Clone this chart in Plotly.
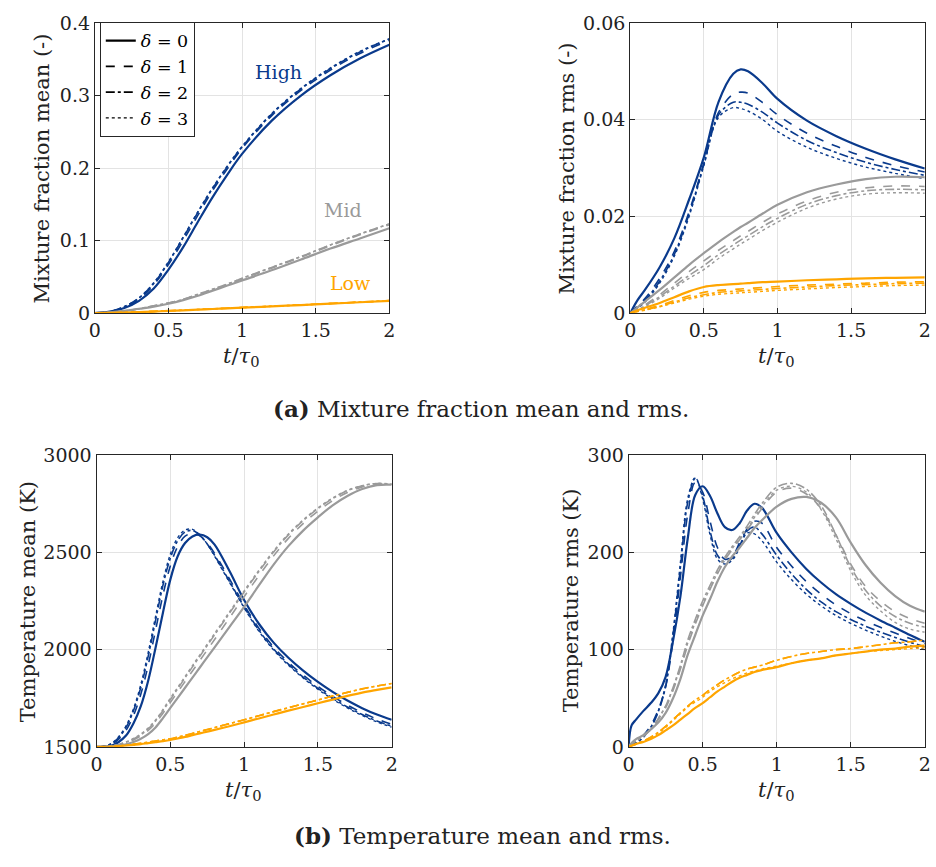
import plotly.graph_objects as go

# ---------------- data ----------------
deltas = ["0", "1", "2", "3"]
groups = ["High", "Mid", "Low"]

# Panel (a-left): mixture fraction mean
t_zmean = [0, 0.1, 0.2, 0.3, 0.4, 0.5, 0.6, 0.7, 0.8, 0.9, 1.0, 1.2, 1.4, 1.6, 1.8, 2.0]
zmean_high = [
    [0, 0.002, 0.007, 0.017, 0.034, 0.060, 0.091, 0.126, 0.160, 0.191, 0.2195, 0.265, 0.300, 0.328, 0.351, 0.370],
    [0, 0.002, 0.008, 0.019, 0.039, 0.067, 0.100, 0.135, 0.169, 0.199, 0.227, 0.272, 0.307, 0.335, 0.358, 0.376],
    [0, 0.002, 0.009, 0.021, 0.041, 0.070, 0.104, 0.139, 0.172, 0.202, 0.229, 0.274, 0.309, 0.337, 0.360, 0.378],
    [0, 0.002, 0.009, 0.021, 0.042, 0.071, 0.105, 0.140, 0.173, 0.203, 0.230, 0.275, 0.310, 0.338, 0.361, 0.378],
]
zmean_mid = [
    [0, 0.001, 0.003, 0.006, 0.009, 0.013, 0.018, 0.024, 0.031, 0.038, 0.045, 0.059, 0.074, 0.089, 0.103, 0.117],
    [0, 0.001, 0.003, 0.006, 0.010, 0.014, 0.019, 0.025, 0.032, 0.039, 0.047, 0.062, 0.077, 0.093, 0.108, 0.122],
    [0, 0.001, 0.003, 0.006, 0.010, 0.014, 0.019, 0.026, 0.033, 0.040, 0.048, 0.063, 0.078, 0.094, 0.109, 0.123],
    [0, 0.001, 0.003, 0.006, 0.010, 0.014, 0.019, 0.026, 0.033, 0.040, 0.048, 0.063, 0.078, 0.094, 0.109, 0.123],
]
zmean_low = [
    [0, 0.0003, 0.0008, 0.0015, 0.0022, 0.003, 0.0039, 0.0048, 0.0057, 0.0066, 0.0075, 0.0093, 0.0111, 0.013, 0.015, 0.017],
    [0, 0.0003, 0.0009, 0.0016, 0.0024, 0.0032, 0.0041, 0.0050, 0.0059, 0.0068, 0.0077, 0.0095, 0.0113, 0.0132, 0.0152, 0.0172],
    [0, 0.0003, 0.0009, 0.0016, 0.0024, 0.0032, 0.0041, 0.0050, 0.0059, 0.0068, 0.0077, 0.0095, 0.0113, 0.0132, 0.0152, 0.0172],
    [0, 0.0003, 0.0009, 0.0016, 0.0024, 0.0032, 0.0041, 0.0050, 0.0059, 0.0068, 0.0077, 0.0095, 0.0113, 0.0132, 0.0152, 0.0172],
]

# Panel (a-right): mixture fraction rms
t_zrms = [0, 0.05, 0.1, 0.2, 0.3, 0.4, 0.5, 0.6, 0.7, 0.75, 0.8, 0.9, 1.0, 1.2, 1.4, 1.6, 1.8, 2.0]
zrms_high = [
    [0, 0.0027, 0.0048, 0.0095, 0.0155, 0.0235, 0.0322, 0.0437, 0.0495, 0.0504, 0.0500, 0.0475, 0.0443, 0.0398, 0.0366, 0.0340, 0.0318, 0.0299],
    [0, 0.0015, 0.0030, 0.0072, 0.0128, 0.0210, 0.0310, 0.0415, 0.0453, 0.0457, 0.0455, 0.0435, 0.0410, 0.0372, 0.0345, 0.0322, 0.0305, 0.0292],
    [0, 0.0012, 0.0026, 0.0066, 0.0122, 0.0205, 0.0308, 0.0410, 0.0436, 0.0436, 0.0432, 0.0415, 0.0393, 0.0357, 0.0332, 0.0312, 0.0297, 0.0285],
    [0, 0.0010, 0.0023, 0.0062, 0.0118, 0.0200, 0.0305, 0.0405, 0.0425, 0.0423, 0.0418, 0.0400, 0.0376, 0.0343, 0.0320, 0.0302, 0.0289, 0.0278],
]
zrms_mid = [
    [0, 0.0012, 0.0024, 0.0048, 0.0074, 0.0100, 0.0124, 0.0147, 0.0168, 0.0178, 0.0187, 0.0206, 0.0224, 0.0250, 0.0266, 0.0277, 0.0282, 0.0281],
    [0, 0.0008, 0.0017, 0.0038, 0.0062, 0.0086, 0.0108, 0.0130, 0.0150, 0.0160, 0.0169, 0.0188, 0.0205, 0.0232, 0.0250, 0.0259, 0.0263, 0.0262],
    [0, 0.0007, 0.0015, 0.0034, 0.0056, 0.0078, 0.0098, 0.0121, 0.0141, 0.0151, 0.0160, 0.0179, 0.0196, 0.0225, 0.0243, 0.0253, 0.0256, 0.0255],
    [0, 0.0006, 0.0013, 0.0031, 0.0052, 0.0072, 0.0090, 0.0113, 0.0133, 0.0143, 0.0152, 0.0171, 0.0188, 0.0217, 0.0236, 0.0246, 0.0249, 0.0248],
]
zrms_low = [
    [0, 0.0006, 0.0011, 0.0021, 0.0033, 0.0045, 0.0054, 0.0058, 0.0060, 0.0061, 0.0062, 0.0064, 0.0065, 0.0068, 0.0070, 0.0072, 0.0073, 0.0074],
    [0, 0.0004, 0.0008, 0.0016, 0.0026, 0.0036, 0.0043, 0.0047, 0.0049, 0.0050, 0.0051, 0.0053, 0.0055, 0.0058, 0.0060, 0.0062, 0.0064, 0.0065],
    [0, 0.0004, 0.0007, 0.0014, 0.0023, 0.0032, 0.0038, 0.0043, 0.0045, 0.0046, 0.0047, 0.0049, 0.0051, 0.0054, 0.0057, 0.0059, 0.0061, 0.0062],
    [0, 0.0003, 0.0006, 0.0013, 0.0021, 0.0029, 0.0035, 0.0039, 0.0041, 0.0042, 0.0043, 0.0045, 0.0047, 0.0050, 0.0053, 0.0055, 0.0057, 0.0058],
]

# Panel (b-left): temperature mean
t_tmean = [0, 0.05, 0.1, 0.15, 0.2, 0.25, 0.3, 0.35, 0.4, 0.45, 0.5, 0.55, 0.6, 0.65, 0.7, 0.75, 0.8,
           0.9, 1.0, 1.1, 1.2, 1.3, 1.4, 1.5, 1.6, 1.7, 1.8, 1.9, 2.0]
tmean_high = [
    [1500, 1500, 1505, 1525, 1558, 1620, 1709, 1840, 2010, 2190, 2360, 2480, 2548, 2582, 2592, 2578, 2540,
     2405, 2255, 2133, 2036, 1958, 1892, 1834, 1783, 1738, 1699, 1666, 1639],
    [1500, 1502, 1512, 1540, 1585, 1660, 1770, 1920, 2100, 2280, 2430, 2530, 2583, 2598, 2585, 2548, 2495,
     2365, 2230, 2110, 2013, 1935, 1869, 1811, 1760, 1715, 1676, 1643, 1616],
    [1500, 1503, 1515, 1548, 1600, 1685, 1805, 1965, 2150, 2330, 2470, 2560, 2605, 2612, 2588, 2543, 2485,
     2352, 2220, 2100, 2003, 1925, 1859, 1801, 1750, 1705, 1666, 1633, 1606],
    [1500, 1503, 1517, 1552, 1608, 1695, 1820, 1985, 2170, 2350, 2490, 2575, 2615, 2618, 2590, 2542, 2480,
     2347, 2215, 2095, 1998, 1920, 1854, 1796, 1745, 1700, 1661, 1628, 1601],
]
tmean_mid = [
    [1500, 1500, 1502, 1506, 1513, 1525, 1542, 1566, 1600, 1648, 1700, 1752, 1804, 1856, 1908, 1960, 2012,
     2116, 2220, 2330, 2437, 2532, 2612, 2680, 2742, 2790, 2826, 2846, 2848],
    [1500, 1501, 1504, 1510, 1520, 1535, 1556, 1584, 1622, 1673, 1728, 1782, 1836, 1890, 1944, 1998, 2052,
     2162, 2272, 2380, 2482, 2572, 2648, 2712, 2766, 2808, 2836, 2851, 2850],
    [1500, 1501, 1505, 1512, 1523, 1540, 1562, 1592, 1633, 1686, 1743, 1799, 1855, 1911, 1966, 2021, 2076,
     2186, 2296, 2402, 2502, 2590, 2663, 2725, 2777, 2817, 2842, 2854, 2850],
    [1500, 1501, 1505, 1513, 1525, 1543, 1566, 1597, 1638, 1692, 1750, 1806, 1862, 1918, 1973, 2028, 2083,
     2193, 2302, 2408, 2508, 2595, 2667, 2729, 2780, 2819, 2843, 2855, 2851],
]
tmean_low = [
    [1500, 1500, 1501, 1503, 1506, 1510, 1514, 1519, 1524, 1529, 1535, 1543, 1551, 1560, 1569, 1578, 1587,
     1606, 1626, 1646, 1666, 1686, 1705, 1724, 1743, 1762, 1779, 1793, 1806],
    [1500, 1500, 1501, 1504, 1508, 1513, 1518, 1524, 1530, 1536, 1541, 1550, 1559, 1569, 1579, 1589, 1599,
     1619, 1639, 1660, 1681, 1701, 1721, 1741, 1761, 1780, 1798, 1813, 1826],
    [1500, 1500, 1501, 1504, 1508, 1513, 1518, 1524, 1530, 1536, 1541, 1550, 1559, 1569, 1579, 1589, 1599,
     1619, 1639, 1660, 1681, 1701, 1721, 1741, 1761, 1780, 1798, 1813, 1826],
    [1500, 1500, 1501, 1504, 1508, 1513, 1518, 1524, 1530, 1536, 1541, 1550, 1559, 1569, 1579, 1589, 1599,
     1619, 1639, 1660, 1681, 1701, 1721, 1741, 1761, 1780, 1798, 1813, 1826],
]

# Panel (b-right): temperature rms
t_trms = [0, 0.02, 0.05, 0.1, 0.15, 0.2, 0.25, 0.3, 0.35, 0.4, 0.45, 0.5, 0.55, 0.6, 0.65, 0.7, 0.75, 0.8, 0.85, 0.9, 1.0, 1.1, 1.2, 1.3, 1.4, 1.5, 1.6, 1.7, 1.8, 1.9, 2.0]
trms_high = [
    [0, 22, 28, 37, 45, 55, 72, 109, 155, 215, 259, 268, 258, 240, 226, 223, 230, 243, 250, 246, 220, 200, 183, 169, 157, 147, 138, 130, 122.5, 115, 108],
    [0, 2, 5, 12, 22, 38, 62, 110, 175, 240, 272, 262, 232, 205, 193, 196, 210, 224, 232, 230, 205, 186, 170, 157, 146, 137, 129.5, 123, 117, 111.5, 106],
    [0, 2, 4, 10, 20, 36, 62, 115, 185, 252, 276, 258, 222, 197, 190, 194, 207, 222, 226, 219, 197, 178, 162, 149, 139, 131, 124, 118, 112.5, 107.5, 103],
    [0, 2, 4, 10, 20, 37, 64, 118, 190, 256, 277, 255, 218, 193, 188, 192, 205, 220, 219, 212, 190, 172, 157, 145, 135, 127, 120, 114, 108.5, 104, 100],
]
trms_mid = [
    [0, 4, 8, 12, 18, 25, 35, 50, 70, 95, 115, 135, 152, 170, 185, 196, 205, 215, 225, 233, 247, 255, 257, 251, 236, 210, 187, 169, 155, 145, 139],
    [0, 3, 6, 11, 18, 28, 40, 58, 80, 105, 126, 145, 162, 178, 192, 203, 213, 223, 234, 245, 262, 266, 260, 245, 218, 188, 165, 150, 139, 132, 127],
    [0, 3, 6, 11, 18, 29, 42, 61, 84, 110, 131, 150, 166, 182, 195, 206, 216, 227, 239, 250, 267, 271, 265, 248, 218, 185, 161, 145, 134, 127, 123],
    [0, 3, 6, 11, 18, 29, 42, 60, 82, 107, 128, 147, 163, 179, 193, 204, 214, 224, 236, 247, 264, 268, 262, 244, 214, 181, 156, 140, 128, 121, 118],
]
trms_low = [
    [0, 1, 3, 5, 8, 12, 17, 22, 28, 34, 40, 45, 51, 57, 62, 67, 71, 74, 77, 79, 82, 86, 89, 91, 94, 96, 98, 100, 101, 103, 104],
    [0, 1, 3, 6, 10, 15, 21, 28, 35, 42, 48, 53, 59, 64, 69, 73, 77, 80, 82, 84, 89, 93, 96, 98, 100, 101, 103, 105, 107, 108, 110],
    [0, 1, 3, 6, 10, 15, 21, 28, 35, 42, 48, 53, 59, 64, 69, 73, 77, 80, 82, 84, 89, 93, 96, 98, 100, 101, 103, 105, 107, 108, 110],
    [0, 1, 3, 6, 9, 14, 20, 27, 34, 41, 46, 51, 57, 62, 66, 70, 73, 76, 78, 80, 83, 86, 89, 91, 94, 96, 98, 99, 100, 101, 102],
]

x_ticks = [0, 0.5, 1, 1.5, 2]
x_tick_text = ["0", "0.5", "1", "1.5", "2"]
ticks_zmean = [0, 0.1, 0.2, 0.3, 0.4]
ticks_zrms = [0, 0.02, 0.04, 0.06]
ticks_tmean = [1500, 2000, 2500, 3000]
ticks_trms = [0, 100, 200, 300]

# ---------------- style ----------------
FONT = "DejaVu Serif"
TXT = "#222222"
colors = {"High": "#0A3A8C", "Mid": "#9A9A9A", "Low": "#FFA500"}
dashes = ["solid", "dash", "dashdot", "dot"]
widths = [2.2, 1.6, 1.6, 1.4]

W, H = 936, 867
def px(x):
    return x / W
def py(y):
    return 1 - y / H

panels = [
    ("", (90, 388.3), (12.3, 310), t_zmean, [zmean_high, zmean_mid, zmean_low], [0, 0.4], ticks_zmean),
    ("2", (632.3, 930.7), (12.3, 310), t_zrms, [zrms_high, zrms_mid, zrms_low], [0, 0.06], ticks_zrms),
    ("3", (91.7, 390.7), (455.7, 755), t_tmean, [tmean_high, tmean_mid, tmean_low], [1500, 3000], ticks_tmean),
    ("4", (630.7, 930.7), (455.7, 755), t_trms, [trms_high, trms_mid, trms_low], [0, 300], ticks_trms),
]

fig = go.Figure()
layout = dict(
    width=W, height=H, autosize=False,
    margin=dict(l=0, r=0, t=0, b=0),
    paper_bgcolor="white", plot_bgcolor="white",
    font=dict(family=FONT, size=19, color=TXT),
    showlegend=True,
)

for ax, xd, yd, t, data, yr, yt in panels:
    for gi, g in enumerate(groups):
        for di in range(4):
            fig.add_trace(go.Scatter(
                x=t, y=data[gi][di], mode="lines",
                line=dict(color=colors[g], width=widths[di], dash=dashes[di], shape="spline", smoothing=1.0),
                xaxis="x" + ax, yaxis="y" + ax, showlegend=False, hoverinfo="skip",
            ))
    axis_common = dict(
        showline=True, linecolor="#262626", linewidth=1, mirror="ticks",
        ticks="inside", ticklen=5, tickcolor="#262626",
        showgrid=True, gridcolor="#E3E3E3", gridwidth=1, zeroline=False,
        tickfont=dict(family=FONT, size=19, color=TXT),
    )
    layout["xaxis" + ax] = dict(
        domain=[px(xd[0]), px(xd[1])], range=[0, 2], tickvals=x_ticks, ticktext=x_tick_text,
        anchor="y" + ax, **axis_common,
    )
    layout["yaxis" + ax] = dict(
        domain=[py(yd[1]), py(yd[0])], range=yr, tickvals=yt,
        anchor="x" + ax, **axis_common,
    )

# legend entries (black)
for di, d in enumerate(deltas):
    fig.add_trace(go.Scatter(
        x=[None], y=[None], mode="lines",
        line=dict(color="black", width=widths[di], dash=dashes[di]),
        name="<i>δ</i> = " + d, xaxis="x", yaxis="y",
    ))

layout["legend"] = dict(
    x=px(95), y=py(11), xanchor="left", yanchor="top",
    bgcolor="white", bordercolor="#262626", borderwidth=1,
    font=dict(family=FONT, size=17.5, color="black"),
    tracegroupgap=0, itemwidth=30,
)

annotations = []
annotations.append(dict(x=px(276), y=py(63), text="High", font=dict(color=colors["High"], size=19)))
annotations.append(dict(x=px(341), y=py(204), text="Mid", font=dict(color=colors["Mid"], size=19)))
annotations.append(dict(x=px(349), y=py(279), text="Low", font=dict(color=colors["Low"], size=19)))
xlab = "<i>t</i>/<i>τ</i><sub>0</sub>"
for cx, cy in [(239, 355), (781, 355), (241, 800), (780, 800)]:
    annotations.append(dict(x=px(cx), y=py(cy), text=xlab, font=dict(size=21)))
for cx, cy, txt in [(36, 162, "Mixture fraction mean (-)"), (568, 162, "Mixture fraction rms (-)"),
                    (22, 606, "Temperature mean (K)"), (572, 605, "Temperature rms (K)")]:
    annotations.append(dict(x=px(cx), y=py(cy), text=txt, textangle=-90, font=dict(size=21)))
annotations.append(dict(x=px(481), y=py(408), text="<b>(a)</b> Mixture fraction mean and rms.", font=dict(size=23)))
annotations.append(dict(x=px(483), y=py(846), text="<b>(b)</b> Temperature mean and rms.", font=dict(size=23)))

for a in annotations:
    a.update(xref="paper", yref="paper", showarrow=False, xanchor="center", yanchor="middle")
    a["font"] = dict(family=FONT, color=a["font"].get("color", TXT), size=a["font"]["size"])
layout["annotations"] = annotations

fig.update_layout(**layout)
fig.write_html("out.html")
